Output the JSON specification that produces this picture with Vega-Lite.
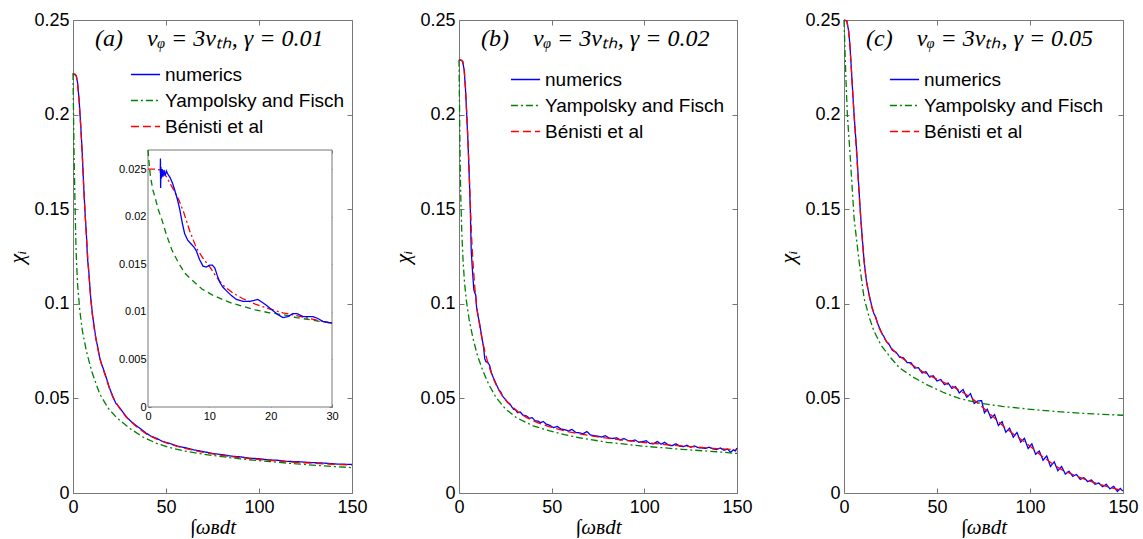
{
"$schema": "https://vega.github.io/schema/vega-lite/v6.json",
"padding": {"left": 5, "top": 10, "right": 5, "bottom": 0},
"bounds": "flush",
"spacing": 107,
"background": "white",
"config": {
  "view": {"stroke": "#777", "strokeWidth": 1},
  "axis": {"domain": false, "grid": false, "tickColor": "#777", "tickSize": -5, "labelPadding": 9, "labelFont": "Liberation Sans", "labelFontSize": 18, "labelColor": "black", "labelFlush": false, "labelOverlap": false, "labelBound": false, "titleFont": "Liberation Serif", "titleFontStyle": "italic", "titleFontWeight": "normal", "titleFontSize": 22, "titleColor": "black"},
  "axisBottom": {"labelPadding": 10, "titleFontSize": 21},
  "legend": {"symbolType": "stroke", "symbolSize": 850, "symbolStrokeWidth": 1.5, "labelFont": "Liberation Sans", "labelFontSize": 19, "labelColor": "black", "labelOffset": 4, "labelLimit": 400, "padding": 0, "rowPadding": -11},
  "title": {"font": "Liberation Serif", "fontStyle": "italic", "fontWeight": "normal", "fontSize": 24, "color": "black", "anchor": "start", "frame": "group", "offset": -40}
},
"resolve": {"scale": {"color": "independent", "strokeDash": "independent"}},
"datasets": {
"a": [
{"x":0,"y":0.2212,"s":"numerics"},{"x":1,"y":0.2212,"s":"numerics"},{"x":1.8,"y":0.2203,"s":"numerics"},{"x":2.5,"y":0.2165,"s":"numerics"},{"x":3.3,"y":0.2075,"s":"numerics"},{"x":4.2,"y":0.1935,"s":"numerics"},{"x":5,"y":0.179,"s":"numerics"},{"x":5.8,"y":0.161,"s":"numerics"},{"x":6.6,"y":0.146,"s":"numerics"},{"x":7.2,"y":0.137,"s":"numerics"},{"x":7.8,"y":0.124,"s":"numerics"},{"x":8.5,"y":0.117,"s":"numerics"},{"x":9.5,"y":0.1035,"s":"numerics"},{"x":10.5,"y":0.094,"s":"numerics"},{"x":11.6,"y":0.0865,"s":"numerics"},{"x":12.4,"y":0.081,"s":"numerics"},{"x":13,"y":0.0785,"s":"numerics"},{"x":14.3,"y":0.0718,"s":"numerics"},{"x":15.2,"y":0.0685,"s":"numerics"},{"x":16,"y":0.0665,"s":"numerics"},{"x":17.9,"y":0.061,"s":"numerics"},{"x":19.5,"y":0.0558,"s":"numerics"},{"x":21.5,"y":0.0508,"s":"numerics"},{"x":23,"y":0.0475,"s":"numerics"},{"x":25,"y":0.0452,"s":"numerics"},{"x":27,"y":0.0425,"s":"numerics"},{"x":28.7,"y":0.0403,"s":"numerics"},{"x":31,"y":0.038,"s":"numerics"},{"x":34,"y":0.0356,"s":"numerics"},{"x":36.5,"y":0.0338,"s":"numerics"},{"x":39.4,"y":0.0316,"s":"numerics"},{"x":42,"y":0.03,"s":"numerics"},{"x":45,"y":0.0289,"s":"numerics"},{"x":48,"y":0.0273,"s":"numerics"},{"x":52,"y":0.0262,"s":"numerics"},{"x":56,"y":0.0248,"s":"numerics"},{"x":60,"y":0.024,"s":"numerics"},{"x":65,"y":0.0228,"s":"numerics"},{"x":70,"y":0.0219,"s":"numerics"},{"x":75,"y":0.0209,"s":"numerics"},{"x":80,"y":0.0203,"s":"numerics"},{"x":85,"y":0.0195,"s":"numerics"},{"x":90,"y":0.0191,"s":"numerics"},{"x":95,"y":0.0184,"s":"numerics"},{"x":100,"y":0.0181,"s":"numerics"},{"x":105,"y":0.0175,"s":"numerics"},{"x":110,"y":0.0173,"s":"numerics"},{"x":115,"y":0.0167,"s":"numerics"},{"x":120,"y":0.0166,"s":"numerics"},{"x":128,"y":0.0161,"s":"numerics"},{"x":135,"y":0.0158,"s":"numerics"},{"x":142,"y":0.0153,"s":"numerics"},{"x":150,"y":0.0151,"s":"numerics"},
{"x":0,"y":0.222,"s":"Yampolsky and Fisch"},{"x":0.15,"y":0.21,"s":"Yampolsky and Fisch"},{"x":0.3,"y":0.199,"s":"Yampolsky and Fisch"},{"x":0.6,"y":0.178,"s":"Yampolsky and Fisch"},{"x":1,"y":0.157,"s":"Yampolsky and Fisch"},{"x":1.4,"y":0.138,"s":"Yampolsky and Fisch"},{"x":1.8,"y":0.124,"s":"Yampolsky and Fisch"},{"x":2.5,"y":0.11,"s":"Yampolsky and Fisch"},{"x":3.6,"y":0.097,"s":"Yampolsky and Fisch"},{"x":5,"y":0.086,"s":"Yampolsky and Fisch"},{"x":7.2,"y":0.075,"s":"Yampolsky and Fisch"},{"x":10,"y":0.0645,"s":"Yampolsky and Fisch"},{"x":14.3,"y":0.0525,"s":"Yampolsky and Fisch"},{"x":19,"y":0.0447,"s":"Yampolsky and Fisch"},{"x":23.3,"y":0.04,"s":"Yampolsky and Fisch"},{"x":30,"y":0.0345,"s":"Yampolsky and Fisch"},{"x":37.6,"y":0.0296,"s":"Yampolsky and Fisch"},{"x":45,"y":0.0262,"s":"Yampolsky and Fisch"},{"x":52,"y":0.024,"s":"Yampolsky and Fisch"},{"x":60,"y":0.0222,"s":"Yampolsky and Fisch"},{"x":70,"y":0.0205,"s":"Yampolsky and Fisch"},{"x":80,"y":0.0192,"s":"Yampolsky and Fisch"},{"x":90,"y":0.018,"s":"Yampolsky and Fisch"},{"x":105.7,"y":0.0166,"s":"Yampolsky and Fisch"},{"x":120,"y":0.0154,"s":"Yampolsky and Fisch"},{"x":135,"y":0.0143,"s":"Yampolsky and Fisch"},{"x":150,"y":0.0134,"s":"Yampolsky and Fisch"},
{"x":0,"y":0.2215,"s":"Bénisti et al"},{"x":1,"y":0.2214,"s":"Bénisti et al"},{"x":1.8,"y":0.2205,"s":"Bénisti et al"},{"x":2.5,"y":0.216,"s":"Bénisti et al"},{"x":3.3,"y":0.207,"s":"Bénisti et al"},{"x":4.2,"y":0.193,"s":"Bénisti et al"},{"x":5,"y":0.178,"s":"Bénisti et al"},{"x":5.8,"y":0.161,"s":"Bénisti et al"},{"x":6.6,"y":0.146,"s":"Bénisti et al"},{"x":7.5,"y":0.131,"s":"Bénisti et al"},{"x":8.5,"y":0.116,"s":"Bénisti et al"},{"x":9.5,"y":0.103,"s":"Bénisti et al"},{"x":10.5,"y":0.0935,"s":"Bénisti et al"},{"x":11.6,"y":0.0856,"s":"Bénisti et al"},{"x":13,"y":0.078,"s":"Bénisti et al"},{"x":14.3,"y":0.0715,"s":"Bénisti et al"},{"x":16,"y":0.066,"s":"Bénisti et al"},{"x":17.9,"y":0.0605,"s":"Bénisti et al"},{"x":19.5,"y":0.0555,"s":"Bénisti et al"},{"x":21.5,"y":0.0505,"s":"Bénisti et al"},{"x":25,"y":0.0448,"s":"Bénisti et al"},{"x":28.7,"y":0.04,"s":"Bénisti et al"},{"x":34,"y":0.0352,"s":"Bénisti et al"},{"x":39.4,"y":0.0312,"s":"Bénisti et al"},{"x":45,"y":0.0285,"s":"Bénisti et al"},{"x":52,"y":0.0258,"s":"Bénisti et al"},{"x":60,"y":0.0236,"s":"Bénisti et al"},{"x":70,"y":0.0215,"s":"Bénisti et al"},{"x":80,"y":0.0199,"s":"Bénisti et al"},{"x":90,"y":0.0187,"s":"Bénisti et al"},{"x":100,"y":0.0177,"s":"Bénisti et al"},{"x":110,"y":0.0169,"s":"Bénisti et al"},{"x":120,"y":0.0162,"s":"Bénisti et al"},{"x":135,"y":0.0154,"s":"Bénisti et al"},{"x":150,"y":0.0147,"s":"Bénisti et al"}
],
"inset_frame": [{"x":0,"xe":30,"y":0,"ye":0.027}],
"inset_green": [{"x":0,"y":0.027},{"x":0.2,"y":0.0255},{"x":0.4,"y":0.0242},{"x":0.8,"y":0.0228},{"x":1.2,"y":0.0219},{"x":1.7,"y":0.0207},{"x":2.3,"y":0.0196},{"x":3,"y":0.0181},{"x":3.9,"y":0.0165},{"x":5,"y":0.0151},{"x":6.1,"y":0.014},{"x":7.4,"y":0.0132},{"x":8.8,"y":0.0124},{"x":10.4,"y":0.0118},{"x":12.1,"y":0.0113},{"x":13.7,"y":0.0109},{"x":15.4,"y":0.0106},{"x":17.5,"y":0.0102},{"x":19.8,"y":0.0099},{"x":22,"y":0.0097},{"x":24.2,"y":0.0094},{"x":27,"y":0.0091},{"x":30,"y":0.0088}],
"inset_red": [{"x":0,"y":0.025},{"x":1,"y":0.025},{"x":2,"y":0.0249},{"x":3,"y":0.0242},{"x":4.1,"y":0.0229},{"x":5,"y":0.0218},{"x":5.8,"y":0.0205},{"x":6.8,"y":0.0185},{"x":7.9,"y":0.0167},{"x":9,"y":0.0156},{"x":10.1,"y":0.0147},{"x":11.1,"y":0.0137},{"x":12.2,"y":0.0128},{"x":13.8,"y":0.012},{"x":15.4,"y":0.0114},{"x":17.5,"y":0.0108},{"x":19.8,"y":0.0103},{"x":22,"y":0.0099},{"x":24.2,"y":0.0096},{"x":27,"y":0.0092},{"x":30,"y":0.0088}],
"inset_blue": [{"x":2,"y":0.0246},{"x":2.03,"y":0.0261},{"x":2.06,"y":0.023},{"x":2.1,"y":0.0252},{"x":2.2,"y":0.024},{"x":2.3,"y":0.025},{"x":2.45,"y":0.0242},{"x":2.6,"y":0.0249},{"x":2.8,"y":0.0243},{"x":3,"y":0.0248},{"x":3.2,"y":0.0245},{"x":3.6,"y":0.0241},{"x":4,"y":0.0235},{"x":4.35,"y":0.0228},{"x":4.8,"y":0.0218},{"x":5.17,"y":0.0208},{"x":5.6,"y":0.0193},{"x":5.98,"y":0.0182},{"x":6.5,"y":0.0175},{"x":7.07,"y":0.0171},{"x":7.5,"y":0.0168},{"x":7.88,"y":0.0164},{"x":8.4,"y":0.0155},{"x":8.97,"y":0.0148},{"x":9.5,"y":0.0147},{"x":10.06,"y":0.0149},{"x":10.5,"y":0.0149},{"x":10.9,"y":0.0146},{"x":11.3,"y":0.0138},{"x":11.7,"y":0.0131},{"x":12.2,"y":0.0126},{"x":12.8,"y":0.0122},{"x":13.6,"y":0.0117},{"x":14.4,"y":0.0113},{"x":15.5,"y":0.0111},{"x":16.6,"y":0.0111},{"x":17.3,"y":0.0112},{"x":17.9,"y":0.0113},{"x":18.6,"y":0.011},{"x":19.3,"y":0.0107},{"x":20.4,"y":0.0101},{"x":21.2,"y":0.0097},{"x":22,"y":0.0094},{"x":22.8,"y":0.0095},{"x":23.6,"y":0.0098},{"x":24.3,"y":0.0098},{"x":25.3,"y":0.0095},{"x":26.9,"y":0.0095},{"x":27.7,"y":0.0093},{"x":28.5,"y":0.009},{"x":30,"y":0.0088}],
"b": [
{"x":0,"y":0.2288,"s":"numerics"},{"x":1,"y":0.2288,"s":"numerics"},{"x":2,"y":0.228,"s":"numerics"},{"x":2.8,"y":0.2235,"s":"numerics"},{"x":3.5,"y":0.2135,"s":"numerics"},{"x":4.2,"y":0.1995,"s":"numerics"},{"x":4.9,"y":0.184,"s":"numerics"},{"x":5.5,"y":0.168,"s":"numerics"},{"x":6.1,"y":0.15,"s":"numerics"},{"x":6.6,"y":0.128,"s":"numerics"},{"x":7.3,"y":0.117,"s":"numerics"},{"x":8,"y":0.1075,"s":"numerics"},{"x":8.6,"y":0.1055,"s":"numerics"},{"x":9,"y":0.1048,"s":"numerics"},{"x":9.5,"y":0.098,"s":"numerics"},{"x":10.2,"y":0.094,"s":"numerics"},{"x":11.2,"y":0.0892,"s":"numerics"},{"x":12.2,"y":0.083,"s":"numerics"},{"x":13.2,"y":0.0775,"s":"numerics"},{"x":13.9,"y":0.071,"s":"numerics"},{"x":14.5,"y":0.0695,"s":"numerics"},{"x":15.5,"y":0.069,"s":"numerics"},{"x":16.5,"y":0.0675,"s":"numerics"},{"x":17.5,"y":0.0635,"s":"numerics"},{"x":18.5,"y":0.061,"s":"numerics"},{"x":20.1,"y":0.0575,"s":"numerics"},{"x":21.5,"y":0.0545,"s":"numerics"},{"x":22.5,"y":0.0535,"s":"numerics"},{"x":23.5,"y":0.0512,"s":"numerics"},{"x":25,"y":0.0495,"s":"numerics"},{"x":26.2,"y":0.0478,"s":"numerics"},{"x":27.4,"y":0.0472,"s":"numerics"},{"x":28.5,"y":0.0455,"s":"numerics"},{"x":29.5,"y":0.0442,"s":"numerics"},{"x":30.5,"y":0.044,"s":"numerics"},{"x":31.5,"y":0.0425,"s":"numerics"},{"x":33,"y":0.0428,"s":"numerics"},{"x":34.5,"y":0.0412,"s":"numerics"},{"x":36.3,"y":0.0408,"s":"numerics"},{"x":38,"y":0.0395,"s":"numerics"},{"x":39.5,"y":0.0398,"s":"numerics"},{"x":41,"y":0.0382,"s":"numerics"},{"x":42.5,"y":0.038,"s":"numerics"},{"x":44,"y":0.0372,"s":"numerics"},{"x":45.5,"y":0.0378,"s":"numerics"},{"x":47,"y":0.0364,"s":"numerics"},{"x":49,"y":0.0358,"s":"numerics"},{"x":51,"y":0.0345,"s":"numerics"},{"x":53,"y":0.0352,"s":"numerics"},{"x":55,"y":0.0338,"s":"numerics"},{"x":57,"y":0.0335,"s":"numerics"},{"x":59,"y":0.0328,"s":"numerics"},{"x":61,"y":0.0336,"s":"numerics"},{"x":63,"y":0.032,"s":"numerics"},{"x":65,"y":0.0318,"s":"numerics"},{"x":67,"y":0.0313,"s":"numerics"},{"x":69,"y":0.0325,"s":"numerics"},{"x":71,"y":0.0306,"s":"numerics"},{"x":73,"y":0.0303,"s":"numerics"},{"x":75,"y":0.03,"s":"numerics"},{"x":77,"y":0.0296,"s":"numerics"},{"x":79,"y":0.0303,"s":"numerics"},{"x":81,"y":0.029,"s":"numerics"},{"x":83,"y":0.0288,"s":"numerics"},{"x":85,"y":0.0292,"s":"numerics"},{"x":87,"y":0.028,"s":"numerics"},{"x":89,"y":0.0288,"s":"numerics"},{"x":91,"y":0.0278,"s":"numerics"},{"x":93,"y":0.0275,"s":"numerics"},{"x":95,"y":0.028,"s":"numerics"},{"x":97,"y":0.0268,"s":"numerics"},{"x":99,"y":0.0272,"s":"numerics"},{"x":101,"y":0.0276,"s":"numerics"},{"x":103,"y":0.0262,"s":"numerics"},{"x":105,"y":0.026,"s":"numerics"},{"x":107,"y":0.0272,"s":"numerics"},{"x":109,"y":0.0258,"s":"numerics"},{"x":111,"y":0.0268,"s":"numerics"},{"x":113,"y":0.0253,"s":"numerics"},{"x":115,"y":0.025,"s":"numerics"},{"x":117,"y":0.026,"s":"numerics"},{"x":119,"y":0.0248,"s":"numerics"},{"x":121,"y":0.0245,"s":"numerics"},{"x":123,"y":0.0252,"s":"numerics"},{"x":125,"y":0.0242,"s":"numerics"},{"x":127,"y":0.0249,"s":"numerics"},{"x":129,"y":0.024,"s":"numerics"},{"x":131,"y":0.0238,"s":"numerics"},{"x":133,"y":0.0236,"s":"numerics"},{"x":135,"y":0.0242,"s":"numerics"},{"x":137,"y":0.0233,"s":"numerics"},{"x":139,"y":0.023,"s":"numerics"},{"x":141,"y":0.0238,"s":"numerics"},{"x":143,"y":0.0226,"s":"numerics"},{"x":145,"y":0.0232,"s":"numerics"},{"x":146.5,"y":0.0215,"s":"numerics"},{"x":148,"y":0.0228,"s":"numerics"},{"x":149,"y":0.0222,"s":"numerics"},{"x":150,"y":0.0238,"s":"numerics"},
{"x":0,"y":0.229,"s":"Yampolsky and Fisch"},{"x":0.15,"y":0.215,"s":"Yampolsky and Fisch"},{"x":0.3,"y":0.203,"s":"Yampolsky and Fisch"},{"x":0.5,"y":0.185,"s":"Yampolsky and Fisch"},{"x":0.7,"y":0.17,"s":"Yampolsky and Fisch"},{"x":1,"y":0.155,"s":"Yampolsky and Fisch"},{"x":1.5,"y":0.138,"s":"Yampolsky and Fisch"},{"x":2.2,"y":0.1226,"s":"Yampolsky and Fisch"},{"x":3,"y":0.111,"s":"Yampolsky and Fisch"},{"x":4,"y":0.1015,"s":"Yampolsky and Fisch"},{"x":5.5,"y":0.0915,"s":"Yampolsky and Fisch"},{"x":7.6,"y":0.0815,"s":"Yampolsky and Fisch"},{"x":10,"y":0.0725,"s":"Yampolsky and Fisch"},{"x":12.9,"y":0.0645,"s":"Yampolsky and Fisch"},{"x":16,"y":0.0575,"s":"Yampolsky and Fisch"},{"x":20,"y":0.0505,"s":"Yampolsky and Fisch"},{"x":25,"y":0.0445,"s":"Yampolsky and Fisch"},{"x":31,"y":0.0398,"s":"Yampolsky and Fisch"},{"x":40,"y":0.0355,"s":"Yampolsky and Fisch"},{"x":49,"y":0.0328,"s":"Yampolsky and Fisch"},{"x":57,"y":0.0308,"s":"Yampolsky and Fisch"},{"x":65,"y":0.0292,"s":"Yampolsky and Fisch"},{"x":80,"y":0.0268,"s":"Yampolsky and Fisch"},{"x":99,"y":0.0248,"s":"Yampolsky and Fisch"},{"x":120,"y":0.0231,"s":"Yampolsky and Fisch"},{"x":139,"y":0.0218,"s":"Yampolsky and Fisch"},{"x":150,"y":0.0209,"s":"Yampolsky and Fisch"},
{"x":0,"y":0.229,"s":"Bénisti et al"},{"x":1,"y":0.2289,"s":"Bénisti et al"},{"x":2,"y":0.2283,"s":"Bénisti et al"},{"x":2.8,"y":0.224,"s":"Bénisti et al"},{"x":3.5,"y":0.214,"s":"Bénisti et al"},{"x":4.2,"y":0.2,"s":"Bénisti et al"},{"x":4.9,"y":0.185,"s":"Bénisti et al"},{"x":5.5,"y":0.17,"s":"Bénisti et al"},{"x":6.1,"y":0.153,"s":"Bénisti et al"},{"x":6.8,"y":0.135,"s":"Bénisti et al"},{"x":7.6,"y":0.121,"s":"Bénisti et al"},{"x":8.5,"y":0.109,"s":"Bénisti et al"},{"x":9.5,"y":0.099,"s":"Bénisti et al"},{"x":10.5,"y":0.0925,"s":"Bénisti et al"},{"x":11.5,"y":0.0865,"s":"Bénisti et al"},{"x":12.5,"y":0.081,"s":"Bénisti et al"},{"x":14,"y":0.0745,"s":"Bénisti et al"},{"x":16,"y":0.0675,"s":"Bénisti et al"},{"x":18,"y":0.0618,"s":"Bénisti et al"},{"x":20,"y":0.0572,"s":"Bénisti et al"},{"x":22,"y":0.0535,"s":"Bénisti et al"},{"x":24,"y":0.0505,"s":"Bénisti et al"},{"x":27.4,"y":0.0468,"s":"Bénisti et al"},{"x":32,"y":0.0428,"s":"Bénisti et al"},{"x":36.3,"y":0.04,"s":"Bénisti et al"},{"x":42,"y":0.0373,"s":"Bénisti et al"},{"x":49,"y":0.035,"s":"Bénisti et al"},{"x":57,"y":0.0328,"s":"Bénisti et al"},{"x":65,"y":0.0312,"s":"Bénisti et al"},{"x":75,"y":0.0297,"s":"Bénisti et al"},{"x":85,"y":0.0283,"s":"Bénisti et al"},{"x":99,"y":0.0268,"s":"Bénisti et al"},{"x":110,"y":0.0257,"s":"Bénisti et al"},{"x":125,"y":0.0245,"s":"Bénisti et al"},{"x":139,"y":0.0235,"s":"Bénisti et al"},{"x":150,"y":0.0228,"s":"Bénisti et al"}
],
"c": [
{"x":0,"y":0.25,"s":"numerics"},{"x":1.5,"y":0.2495,"s":"numerics"},{"x":2.5,"y":0.2443,"s":"numerics"},{"x":3.2,"y":0.2365,"s":"numerics"},{"x":3.9,"y":0.2252,"s":"numerics"},{"x":4.6,"y":0.2133,"s":"numerics"},{"x":5.4,"y":0.2003,"s":"numerics"},{"x":6.1,"y":0.1905,"s":"numerics"},{"x":6.8,"y":0.181,"s":"numerics"},{"x":8,"y":0.161,"s":"numerics"},{"x":9,"y":0.1455,"s":"numerics"},{"x":10,"y":0.1325,"s":"numerics"},{"x":10.8,"y":0.1226,"s":"numerics"},{"x":12,"y":0.1125,"s":"numerics"},{"x":13.4,"y":0.1052,"s":"numerics"},{"x":15,"y":0.0985,"s":"numerics"},{"x":16,"y":0.095,"s":"numerics"},{"x":17,"y":0.0932,"s":"numerics"},{"x":18,"y":0.0898,"s":"numerics"},{"x":19,"y":0.0875,"s":"numerics"},{"x":20.3,"y":0.0845,"s":"numerics"},{"x":21.5,"y":0.0826,"s":"numerics"},{"x":22.8,"y":0.08,"s":"numerics"},{"x":24,"y":0.079,"s":"numerics"},{"x":26,"y":0.0754,"s":"numerics"},{"x":28,"y":0.0744,"s":"numerics"},{"x":30,"y":0.0717,"s":"numerics"},{"x":32,"y":0.0714,"s":"numerics"},{"x":34,"y":0.0689,"s":"numerics"},{"x":36,"y":0.0689,"s":"numerics"},{"x":38,"y":0.066,"s":"numerics"},{"x":40,"y":0.0662,"s":"numerics"},{"x":42,"y":0.0634,"s":"numerics"},{"x":44,"y":0.0642,"s":"numerics"},{"x":46,"y":0.0613,"s":"numerics"},{"x":48,"y":0.062,"s":"numerics"},{"x":50,"y":0.0592,"s":"numerics"},{"x":52,"y":0.06,"s":"numerics"},{"x":54,"y":0.0573,"s":"numerics"},{"x":56,"y":0.0581,"s":"numerics"},{"x":58,"y":0.0553,"s":"numerics"},{"x":60,"y":0.0562,"s":"numerics"},{"x":62,"y":0.0529,"s":"numerics"},{"x":64,"y":0.0547,"s":"numerics"},{"x":66,"y":0.0506,"s":"numerics"},{"x":68,"y":0.0525,"s":"numerics"},{"x":70,"y":0.0473,"s":"numerics"},{"x":72,"y":0.0487,"s":"numerics"},{"x":74,"y":0.0488,"s":"numerics"},{"x":75.5,"y":0.0424,"s":"numerics"},{"x":77,"y":0.0443,"s":"numerics"},{"x":79,"y":0.0396,"s":"numerics"},{"x":81,"y":0.0414,"s":"numerics"},{"x":83,"y":0.0357,"s":"numerics"},{"x":85,"y":0.0377,"s":"numerics"},{"x":87,"y":0.0321,"s":"numerics"},{"x":89,"y":0.0343,"s":"numerics"},{"x":91,"y":0.0295,"s":"numerics"},{"x":93,"y":0.032,"s":"numerics"},{"x":95,"y":0.0269,"s":"numerics"},{"x":97,"y":0.0289,"s":"numerics"},{"x":99,"y":0.0235,"s":"numerics"},{"x":101,"y":0.026,"s":"numerics"},{"x":103,"y":0.0205,"s":"numerics"},{"x":105,"y":0.0222,"s":"numerics"},{"x":107,"y":0.0173,"s":"numerics"},{"x":109,"y":0.0196,"s":"numerics"},{"x":111,"y":0.014,"s":"numerics"},{"x":113,"y":0.0165,"s":"numerics"},{"x":115,"y":0.0118,"s":"numerics"},{"x":117,"y":0.014,"s":"numerics"},{"x":119,"y":0.01,"s":"numerics"},{"x":121,"y":0.0115,"s":"numerics"},{"x":123,"y":0.0088,"s":"numerics"},{"x":125,"y":0.0098,"s":"numerics"},{"x":127,"y":0.0072,"s":"numerics"},{"x":129,"y":0.0081,"s":"numerics"},{"x":131,"y":0.006,"s":"numerics"},{"x":133,"y":0.0069,"s":"numerics"},{"x":135,"y":0.0046,"s":"numerics"},{"x":137,"y":0.0053,"s":"numerics"},{"x":139,"y":0.0033,"s":"numerics"},{"x":141,"y":0.0046,"s":"numerics"},{"x":143,"y":0.0022,"s":"numerics"},{"x":145,"y":0.0035,"s":"numerics"},{"x":147,"y":0.0008,"s":"numerics"},{"x":148.5,"y":0.0024,"s":"numerics"},{"x":150,"y":0.001,"s":"numerics"},
{"x":0,"y":0.25,"s":"Yampolsky and Fisch"},{"x":0.5,"y":0.235,"s":"Yampolsky and Fisch"},{"x":1,"y":0.22,"s":"Yampolsky and Fisch"},{"x":1.8,"y":0.2,"s":"Yampolsky and Fisch"},{"x":3.2,"y":0.18,"s":"Yampolsky and Fisch"},{"x":5.4,"y":0.1455,"s":"Yampolsky and Fisch"},{"x":8.1,"y":0.1226,"s":"Yampolsky and Fisch"},{"x":10.8,"y":0.103,"s":"Yampolsky and Fisch"},{"x":13.5,"y":0.093,"s":"Yampolsky and Fisch"},{"x":16.1,"y":0.0856,"s":"Yampolsky and Fisch"},{"x":20,"y":0.078,"s":"Yampolsky and Fisch"},{"x":25.1,"y":0.0715,"s":"Yampolsky and Fisch"},{"x":30,"y":0.066,"s":"Yampolsky and Fisch"},{"x":37.6,"y":0.061,"s":"Yampolsky and Fisch"},{"x":45,"y":0.057,"s":"Yampolsky and Fisch"},{"x":53.8,"y":0.053,"s":"Yampolsky and Fisch"},{"x":62,"y":0.05,"s":"Yampolsky and Fisch"},{"x":71.7,"y":0.0477,"s":"Yampolsky and Fisch"},{"x":85,"y":0.0458,"s":"Yampolsky and Fisch"},{"x":100.4,"y":0.0442,"s":"Yampolsky and Fisch"},{"x":115,"y":0.043,"s":"Yampolsky and Fisch"},{"x":130,"y":0.042,"s":"Yampolsky and Fisch"},{"x":150,"y":0.0411,"s":"Yampolsky and Fisch"},
{"x":0,"y":0.25,"s":"Bénisti et al"},{"x":1.5,"y":0.2495,"s":"Bénisti et al"},{"x":2.5,"y":0.244,"s":"Bénisti et al"},{"x":3.2,"y":0.236,"s":"Bénisti et al"},{"x":3.9,"y":0.2248,"s":"Bénisti et al"},{"x":4.6,"y":0.213,"s":"Bénisti et al"},{"x":5.4,"y":0.2,"s":"Bénisti et al"},{"x":6.1,"y":0.19,"s":"Bénisti et al"},{"x":6.8,"y":0.179,"s":"Bénisti et al"},{"x":8,"y":0.16,"s":"Bénisti et al"},{"x":9,"y":0.1455,"s":"Bénisti et al"},{"x":10,"y":0.132,"s":"Bénisti et al"},{"x":10.8,"y":0.1226,"s":"Bénisti et al"},{"x":12,"y":0.112,"s":"Bénisti et al"},{"x":13.4,"y":0.105,"s":"Bénisti et al"},{"x":15,"y":0.098,"s":"Bénisti et al"},{"x":17,"y":0.0927,"s":"Bénisti et al"},{"x":19,"y":0.087,"s":"Bénisti et al"},{"x":21.5,"y":0.0821,"s":"Bénisti et al"},{"x":25,"y":0.077,"s":"Bénisti et al"},{"x":28.7,"y":0.0733,"s":"Bénisti et al"},{"x":33,"y":0.07,"s":"Bénisti et al"},{"x":37.6,"y":0.0671,"s":"Bénisti et al"},{"x":42,"y":0.0643,"s":"Bénisti et al"},{"x":46.6,"y":0.0618,"s":"Bénisti et al"},{"x":52,"y":0.0592,"s":"Bénisti et al"},{"x":57.4,"y":0.0568,"s":"Bénisti et al"},{"x":62,"y":0.0543,"s":"Bénisti et al"},{"x":68.1,"y":0.0506,"s":"Bénisti et al"},{"x":73.5,"y":0.0462,"s":"Bénisti et al"},{"x":80,"y":0.0405,"s":"Bénisti et al"},{"x":86,"y":0.035,"s":"Bénisti et al"},{"x":92,"y":0.0305,"s":"Bénisti et al"},{"x":96.8,"y":0.0272,"s":"Bénisti et al"},{"x":100.4,"y":0.0245,"s":"Bénisti et al"},{"x":106,"y":0.0198,"s":"Bénisti et al"},{"x":112.9,"y":0.0148,"s":"Bénisti et al"},{"x":118,"y":0.0118,"s":"Bénisti et al"},{"x":125.4,"y":0.0088,"s":"Bénisti et al"},{"x":132,"y":0.0064,"s":"Bénisti et al"},{"x":138,"y":0.0044,"s":"Bénisti et al"},{"x":144,"y":0.0027,"s":"Bénisti et al"},{"x":150,"y":0.0012,"s":"Bénisti et al"}
]
},
"hconcat": [
{
  "width": 279, "height": 473,
  "title": {"text": "(a)\u00a0\u00a0\u00a0\u00a0vᵩ = 3vₜₕ, γ = 0.01", "dx": 22},
  "resolve": {"scale": {"x": "independent", "y": "independent"}},
  "layer": [
    {
      "data": {"name": "a"},
      "mark": {"type": "line", "strokeWidth": 1.3},
      "encoding": {
        "x": {"field": "x", "type": "quantitative", "scale": {"domain": [0, 150], "nice": false}, "axis": {"orient": "bottom", "values": [0, 50, 100, 150], "title": "∫ωʙdt", "titlePadding": 0}},
        "y": {"field": "y", "type": "quantitative", "scale": {"domain": [0, 0.25], "nice": false}, "axis": {"orient": "left", "values": [0, 0.05, 0.1, 0.15, 0.2, 0.25], "format": "~g", "title": "χᵢ", "titlePadding": 5}},
        "color": {"field": "s", "type": "nominal", "sort": ["numerics", "Yampolsky and Fisch", "Bénisti et al"], "scale": {"domain": ["numerics", "Yampolsky and Fisch", "Bénisti et al"], "range": ["#0000ff", "#008000", "#ff0000"]}, "legend": {"orient": "none", "legendX": 57, "legendY": 39, "title": null}},
        "strokeDash": {"field": "s", "type": "nominal", "sort": ["numerics", "Yampolsky and Fisch", "Bénisti et al"], "scale": {"domain": ["numerics", "Yampolsky and Fisch", "Bénisti et al"], "range": [[1, 0], [7, 3, 2, 3], [8, 4]]}, "legend": {"orient": "none", "legendX": 57, "legendY": 39, "title": null}}
      }
    },
    {
      "data": {"name": "a"},
      "mark": {"type": "line", "opacity": 0},
      "encoding": {
        "x": {"field": "x", "type": "quantitative", "scale": {"domain": [0, 150], "nice": false}, "axis": {"orient": "top", "values": [0, 50, 100, 150], "labels": false, "title": null}},
        "y": {"field": "y", "type": "quantitative", "scale": {"domain": [0, 0.25], "nice": false}, "axis": {"orient": "right", "values": [0, 0.05, 0.1, 0.15, 0.2, 0.25], "labels": false, "title": null}}
      }
    },
    {
      "layer": [
        {
          "data": {"name": "inset_frame"},
          "mark": {"type": "rect", "fill": "white", "stroke": "#777", "strokeWidth": 1},
          "encoding": {
            "x": {"field": "x", "type": "quantitative", "scale": {"domain": [0, 30], "range": [75, 259], "nice": false, "zero": false}, "axis": {"orient": "bottom", "offset": -86, "values": [0, 10, 20, 30], "labelFontSize": 11, "tickSize": -3, "labelPadding": 6, "title": null}},
            "x2": {"field": "xe"},
            "y": {"field": "y", "type": "quantitative", "scale": {"domain": [0, 0.027], "range": [387, 130], "nice": false, "zero": false}, "axis": {"orient": "left", "offset": -75, "values": [0, 0.005, 0.01, 0.015, 0.02, 0.025], "format": "~g", "labelFontSize": 11, "tickSize": -3, "labelPadding": 5, "title": null}},
            "y2": {"field": "ye"}
          }
        },
        {
          "data": {"name": "inset_green"},
          "mark": {"type": "line", "color": "#008000", "strokeWidth": 1.3, "strokeDash": [6, 4]},
          "encoding": {"x": {"field": "x", "type": "quantitative"}, "y": {"field": "y", "type": "quantitative"}}
        },
        {
          "data": {"name": "inset_red"},
          "mark": {"type": "line", "color": "#ff0000", "strokeWidth": 1.3, "strokeDash": [7, 3, 2, 3]},
          "encoding": {"x": {"field": "x", "type": "quantitative"}, "y": {"field": "y", "type": "quantitative"}}
        },
        {
          "data": {"name": "inset_blue"},
          "mark": {"type": "line", "color": "#0000ff", "strokeWidth": 1.3},
          "encoding": {"x": {"field": "x", "type": "quantitative"}, "y": {"field": "y", "type": "quantitative"}}
        }
      ]
    },
    {
      "data": {"name": "inset_frame"},
      "mark": {"type": "rect", "opacity": 0},
      "encoding": {
        "x": {"field": "x", "type": "quantitative", "scale": {"domain": [0, 30], "range": [75, 259], "nice": false, "zero": false}, "axis": {"orient": "top", "offset": -130, "values": [0, 10, 20, 30], "labels": false, "tickSize": -3, "title": null}},
        "x2": {"field": "xe"},
        "y": {"field": "y", "type": "quantitative", "scale": {"domain": [0, 0.027], "range": [387, 130], "nice": false, "zero": false}, "axis": {"orient": "right", "offset": -20, "values": [0, 0.005, 0.01, 0.015, 0.02, 0.025], "labels": false, "tickSize": -3, "title": null}},
        "y2": {"field": "ye"}
      }
    }
  ]
},
{
  "width": 278, "height": 473,
  "title": {"text": "(b)\u00a0\u00a0\u00a0\u00a0vᵩ = 3vₜₕ, γ = 0.02", "dx": 22},
  "resolve": {"scale": {"x": "independent", "y": "independent"}},
  "layer": [
    {
      "data": {"name": "b"},
      "mark": {"type": "line", "strokeWidth": 1.3},
      "encoding": {
        "x": {"field": "x", "type": "quantitative", "scale": {"domain": [0, 150], "nice": false}, "axis": {"orient": "bottom", "values": [0, 50, 100, 150], "title": "∫ωʙdt", "titlePadding": 0}},
        "y": {"field": "y", "type": "quantitative", "scale": {"domain": [0, 0.25], "nice": false}, "axis": {"orient": "left", "values": [0, 0.05, 0.1, 0.15, 0.2, 0.25], "format": "~g", "title": "χᵢ", "titlePadding": 5}},
        "color": {"field": "s", "type": "nominal", "sort": ["numerics", "Yampolsky and Fisch", "Bénisti et al"], "scale": {"domain": ["numerics", "Yampolsky and Fisch", "Bénisti et al"], "range": ["#0000ff", "#008000", "#ff0000"]}, "legend": {"orient": "none", "legendX": 51, "legendY": 44, "title": null}},
        "strokeDash": {"field": "s", "type": "nominal", "sort": ["numerics", "Yampolsky and Fisch", "Bénisti et al"], "scale": {"domain": ["numerics", "Yampolsky and Fisch", "Bénisti et al"], "range": [[1, 0], [7, 3, 2, 3], [8, 4]]}, "legend": {"orient": "none", "legendX": 51, "legendY": 44, "title": null}}
      }
    },
    {
      "data": {"name": "b"},
      "mark": {"type": "line", "opacity": 0},
      "encoding": {
        "x": {"field": "x", "type": "quantitative", "scale": {"domain": [0, 150], "nice": false}, "axis": {"orient": "top", "values": [0, 50, 100, 150], "labels": false, "title": null}},
        "y": {"field": "y", "type": "quantitative", "scale": {"domain": [0, 0.25], "nice": false}, "axis": {"orient": "right", "values": [0, 0.05, 0.1, 0.15, 0.2, 0.25], "labels": false, "title": null}}
      }
    }
  ]
},
{
  "width": 279, "height": 473,
  "title": {"text": "(c)\u00a0\u00a0\u00a0\u00a0vᵩ = 3vₜₕ, γ = 0.05", "dx": 22},
  "resolve": {"scale": {"x": "independent", "y": "independent"}},
  "layer": [
    {
      "data": {"name": "c"},
      "mark": {"type": "line", "strokeWidth": 1.3},
      "encoding": {
        "x": {"field": "x", "type": "quantitative", "scale": {"domain": [0, 150], "nice": false}, "axis": {"orient": "bottom", "values": [0, 50, 100, 150], "title": "∫ωʙdt", "titlePadding": 0}},
        "y": {"field": "y", "type": "quantitative", "scale": {"domain": [0, 0.25], "nice": false}, "axis": {"orient": "left", "values": [0, 0.05, 0.1, 0.15, 0.2, 0.25], "format": "~g", "title": "χᵢ", "titlePadding": 5}},
        "color": {"field": "s", "type": "nominal", "sort": ["numerics", "Yampolsky and Fisch", "Bénisti et al"], "scale": {"domain": ["numerics", "Yampolsky and Fisch", "Bénisti et al"], "range": ["#0000ff", "#008000", "#ff0000"]}, "legend": {"orient": "none", "legendX": 45, "legendY": 44, "title": null}},
        "strokeDash": {"field": "s", "type": "nominal", "sort": ["numerics", "Yampolsky and Fisch", "Bénisti et al"], "scale": {"domain": ["numerics", "Yampolsky and Fisch", "Bénisti et al"], "range": [[1, 0], [7, 3, 2, 3], [8, 4]]}, "legend": {"orient": "none", "legendX": 45, "legendY": 44, "title": null}}
      }
    },
    {
      "data": {"name": "c"},
      "mark": {"type": "line", "opacity": 0},
      "encoding": {
        "x": {"field": "x", "type": "quantitative", "scale": {"domain": [0, 150], "nice": false}, "axis": {"orient": "top", "values": [0, 50, 100, 150], "labels": false, "title": null}},
        "y": {"field": "y", "type": "quantitative", "scale": {"domain": [0, 0.25], "nice": false}, "axis": {"orient": "right", "values": [0, 0.05, 0.1, 0.15, 0.2, 0.25], "labels": false, "title": null}}
      }
    }
  ]
}
]
}
